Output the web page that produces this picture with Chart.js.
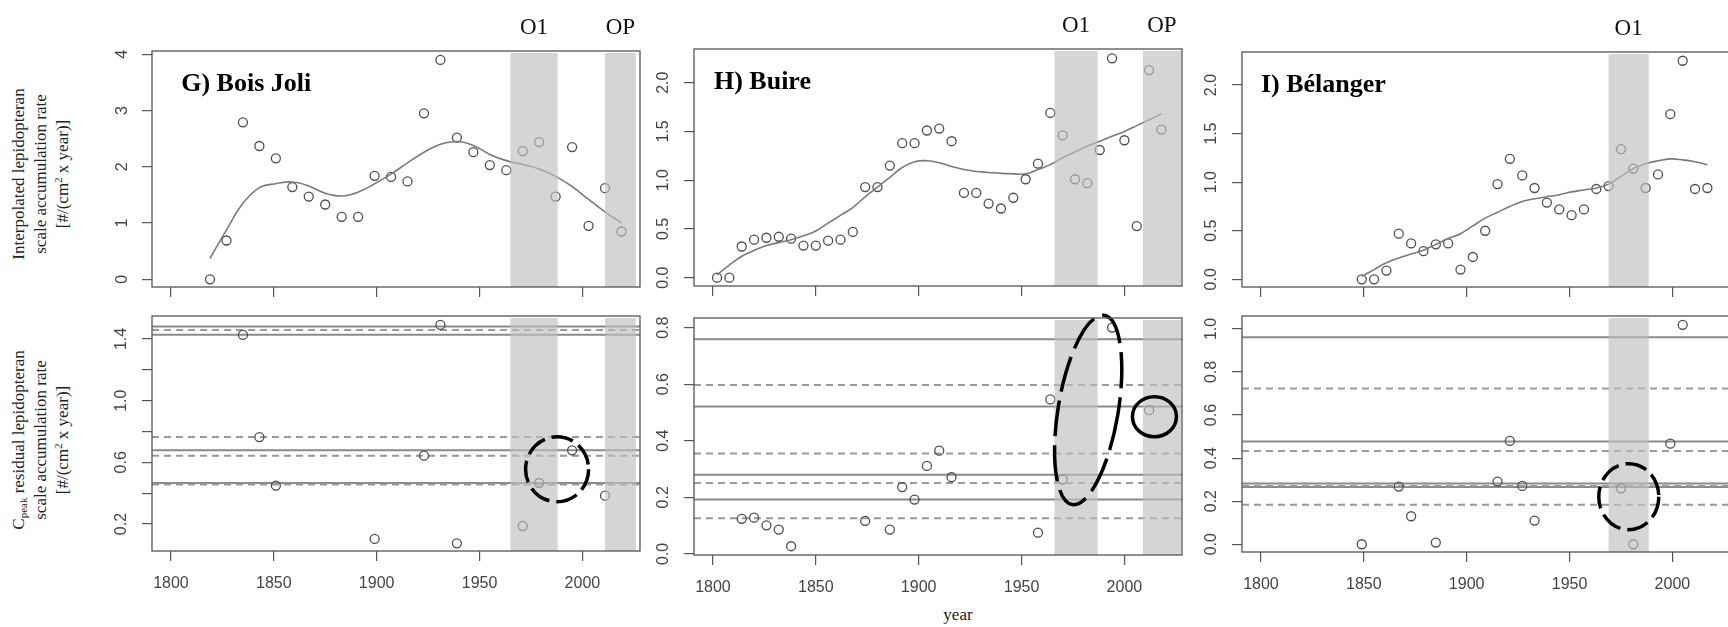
<!DOCTYPE html>
<html>
<head>
<meta charset="utf-8">
<script src="https://cdn.jsdelivr.net/npm/chart.js@4.4.0/dist/chart.umd.min.js"></script>
<style>
  html, body { margin: 0; padding: 0; background: #fff; overflow: hidden; width: 1728px; height: 627px; position: relative; }
  canvas { position: absolute; }
  .ytitle { position: absolute; width: 300px; height: 66px; font: 17px "Liberation Serif", serif; line-height: 22px;
            text-align: center; transform: rotate(-90deg); color: #222; white-space: nowrap; }
  .ytitle sup { font-size: 11px; line-height: 0; vertical-align: 6px; }
  .ytitle sub { font-size: 11px; line-height: 0; vertical-align: -3px; }
  .xtitle { position: absolute; width: 60px; text-align: center; font: 17px "Liberation Serif", serif; line-height: 20px; color: #222; }
</style>
</head>
<body>
<div class="ytitle" style="left:-109px; top:141px;">Interpolated lepidopteran<br>scale accumulation rate<br>[#/(cm<sup>2</sup> x year)]</div>
<div class="ytitle" style="left:-109px; top:407px;">C<sub>peak</sub> residual lepidopteran<br>scale accumulation rate<br>[#/(cm<sup>2</sup> x year)]</div>
<div class="xtitle" style="left:928px; top:605px;">year</div>
<script>
// G) Bois Joli
const gYears = [1819, 1827, 1835, 1843, 1851, 1859, 1867, 1875, 1883, 1891, 1899, 1907, 1915, 1923, 1931, 1939, 1947, 1955, 1963, 1971, 1979, 1987, 1995, 2003, 2011, 2019];
const gRate = [0, 0.69, 2.79, 2.37, 2.15, 1.64, 1.47, 1.33, 1.11, 1.11, 1.84, 1.82, 1.74, 2.95, 3.90, 2.52, 2.26, 2.03, 1.94, 2.28, 2.44, 1.47, 2.35, 0.95, 1.62, 0.85];
const gSmooth = [0.37, 0.88, 1.35, 1.63, 1.70, 1.73, 1.66, 1.53, 1.48, 1.55, 1.70, 1.87, 2.07, 2.26, 2.40, 2.45, 2.38, 2.22, 2.11, 2.04, 1.96, 1.83, 1.65, 1.42, 1.20, 1.00];
const gResYears = [1835, 1843, 1851, 1899, 1923, 1931, 1939, 1971, 1979, 1995, 2011];
const gResid = [1.426, 0.764, 0.449, 0.103, 0.643, 1.491, 0.075, 0.187, 0.466, 0.678, 0.384];
const gSolid = [1.481, 1.428, 0.678, 0.466];
const gDashed = [1.458, 0.764, 0.643, 0.457];
const gO1 = [1965, 1988];
const gOP = [2011, 2026];

// H) Buire
const hYears = [1802, 1808, 1814, 1820, 1826, 1832, 1838, 1844, 1850, 1856, 1862, 1868, 1874, 1880, 1886, 1892, 1898, 1904, 1910, 1916, 1922, 1928, 1934, 1940, 1946, 1952, 1958, 1964, 1970, 1976, 1982, 1988, 1994, 2000, 2006, 2012, 2018];
const hRate = [0, 0, 0.32, 0.39, 0.41, 0.42, 0.40, 0.33, 0.33, 0.38, 0.39, 0.47, 0.93, 0.93, 1.15, 1.38, 1.38, 1.51, 1.53, 1.40, 0.87, 0.87, 0.76, 0.71, 0.82, 1.01, 1.17, 1.69, 1.46, 1.01, 0.97, 1.31, 2.25, 1.41, 0.53, 2.13, 1.52];
const hSmooth = [0.03, 0.13, 0.22, 0.28, 0.33, 0.36, 0.39, 0.43, 0.48, 0.56, 0.64, 0.72, 0.83, 0.93, 1.03, 1.13, 1.19, 1.20, 1.18, 1.14, 1.11, 1.09, 1.08, 1.07, 1.065, 1.065, 1.11, 1.16, 1.23, 1.29, 1.35, 1.40, 1.45, 1.50, 1.56, 1.62, 1.68];
const hResYears = [1814, 1820, 1826, 1832, 1838, 1874, 1886, 1892, 1898, 1904, 1910, 1916, 1958, 1964, 1970, 1994, 2012];
const hResid = [0.124, 0.128, 0.101, 0.086, 0.027, 0.117, 0.086, 0.236, 0.192, 0.311, 0.365, 0.271, 0.075, 0.546, 0.263, 0.800, 0.508];
const hSolid = [0.759, 0.521, 0.280, 0.192];
const hDashed = [0.597, 0.355, 0.251, 0.126];
const hO1 = [1966, 1987];
const hOP = [2009, 2027.5];

// I) Bélanger
const iYears = [1849, 1855, 1861, 1867, 1873, 1879, 1885, 1891, 1897, 1903, 1909, 1915, 1921, 1927, 1933, 1939, 1945, 1951, 1957, 1963, 1969, 1975, 1981, 1987, 1993, 1999, 2005, 2011, 2017];
const iRate = [0, 0, 0.09, 0.47, 0.37, 0.29, 0.36, 0.37, 0.10, 0.23, 0.50, 0.98, 1.24, 1.07, 0.94, 0.79, 0.72, 0.66, 0.72, 0.93, 0.96, 1.34, 1.14, 0.94, 1.08, 1.70, 2.25, 0.93, 0.94];
const iSmooth = [0.03, 0.10, 0.17, 0.22, 0.26, 0.30, 0.36, 0.42, 0.47, 0.55, 0.63, 0.69, 0.75, 0.80, 0.83, 0.85, 0.87, 0.90, 0.92, 0.94, 0.98, 1.06, 1.14, 1.19, 1.22, 1.24, 1.23, 1.21, 1.18];
const iResYears = [1849, 1867, 1873, 1885, 1915, 1921, 1927, 1933, 1975, 1981, 1999, 2005];
const iResid = [0, 0.268, 0.130, 0.008, 0.291, 0.480, 0.271, 0.110, 0.260, 0, 0.467, 1.019];
const iSolid = [0.961, 0.477, 0.282, 0.266];
const iDashed = [0.723, 0.433, 0.271, 0.184];
const iO1 = [1969, 1988.5];

const xTicks = [1800, 1850, 1900, 1950, 2000];

const fmt1 = v => v.toFixed(1);
const fmtInt = v => String(v);
const fmtAlt = v => (Math.round(v * 10) % 4 === 2 ? v.toFixed(1) : '');

// box = plot region [left, top, right, bottom] on the page
const panels = [
    {top: true, box: [152, 51, 640, 287], y: [-0.137, 4.059], step: 1, pad: 15, fmt: fmtInt,
     years: gYears, values: gRate, smooth: gSmooth, bands: [gO1, gOP], names: ['O1', 'OP'],
     title: 'G) Bois Joli', titleX: 1805},
    {top: false, box: [152, 316, 640, 551], y: [0.025, 1.549], step: 0.2, pad: 9, fmt: fmtAlt,
     years: gResYears, values: gResid, solid: gSolid, dashed: gDashed, bands: [gO1, gOP],
     rings: [{x: 1987.7, y: 0.555, rx: 31.5, ry: 32.5, rot: 0, dash: [22, 7]}]},
    {top: true, box: [694, 49, 1182, 286], y: [-0.085, 2.346], step: 0.5, pad: 9, fmt: fmt1,
     years: hYears, values: hRate, smooth: hSmooth, bands: [hO1, hOP], names: ['O1', 'OP'],
     title: 'H) Buire', titleX: 1800.5},
    {top: false, box: [694, 318, 1182, 555], y: [-0.004, 0.834], step: 0.2, pad: 9, fmt: fmt1,
     years: hResYears, values: hResid, solid: hSolid, dashed: hDashed, bands: [hO1, hOP],
     rings: [{x: 1982.4, y: 0.509, rx: 30, ry: 96, rot: 9.6, dash: [36, 9]},
             {x: 2014.6, y: 0.485, rx: 22, ry: 20, rot: 0, dash: []}]},
    {top: true, box: [1242, 52, 1730, 287], y: [-0.079, 2.34], step: 0.5, pad: 9, fmt: fmt1,
     years: iYears, values: iRate, smooth: iSmooth, bands: [iO1], names: ['O1'],
     title: 'I) Bélanger', titleX: 1800},
    {top: false, box: [1242, 316, 1730, 552], y: [-0.036, 1.06], step: 0.2, pad: 9, fmt: fmt1,
     years: iResYears, values: iResid, solid: iSolid, dashed: iDashed, bands: [iO1],
     rings: [{x: 1978.8, y: 0.221, rx: 30, ry: 33, rot: 0, dash: [22, 7]}]}
];

function hline(ctx, area, py, dash) {
    ctx.setLineDash(dash);
    ctx.beginPath();
    ctx.moveTo(area.left, py);
    ctx.lineTo(area.right, py);
    ctx.stroke();
}

function decorPlugin(p) {
    return {
        id: 'decor',
        beforeDatasetsDraw(chart) {
            const ctx = chart.ctx, a = chart.chartArea, ys = chart.scales.y;
            ctx.save();
            ctx.lineWidth = 2;
            ctx.strokeStyle = '#8a8a8a';
            (p.solid || []).forEach(v => hline(ctx, a, ys.getPixelForValue(v), []));
            ctx.strokeStyle = '#999';
            (p.dashed || []).forEach(v => hline(ctx, a, ys.getPixelForValue(v), [7, 5]));
            ctx.restore();
        },
        afterDatasetsDraw(chart) {
            const ctx = chart.ctx, a = chart.chartArea, xs = chart.scales.x, ys = chart.scales.y;
            ctx.save();
            // shaded periods, drawn over the marks like the original
            p.bands.forEach((b, i) => {
                const x0 = xs.getPixelForValue(b[0]), x1 = xs.getPixelForValue(b[1]);
                ctx.fillStyle = 'rgba(190, 190, 190, 0.65)';
                ctx.fillRect(x0, a.top + 2, x1 - x0, a.bottom - a.top - 2);
                if (p.top) {
                    ctx.fillStyle = '#111';
                    ctx.font = '23px "Liberation Serif", serif';
                    ctx.textAlign = 'center';
                    ctx.textBaseline = 'alphabetic';
                    ctx.fillText(p.names[i], (x0 + x1) / 2, a.top - 17);
                }
            });
            // highlighted areas
            (p.rings || []).forEach(r => {
                ctx.lineWidth = 3.5;
                ctx.strokeStyle = '#000';
                ctx.setLineDash(r.dash);
                ctx.beginPath();
                ctx.ellipse(xs.getPixelForValue(r.x), ys.getPixelForValue(r.y), r.rx, r.ry, r.rot * Math.PI / 180, 0, 2 * Math.PI);
                ctx.stroke();
            });
            ctx.setLineDash([]);
            if (p.title) {
                ctx.fillStyle = '#000';
                ctx.font = 'bold 26px "Liberation Serif", serif';
                ctx.textAlign = 'left';
                ctx.textBaseline = 'alphabetic';
                ctx.fillText(p.title, xs.getPixelForValue(p.titleX), a.top + 40);
            }
            ctx.lineWidth = 1.3;
            ctx.strokeStyle = '#555';
            ctx.strokeRect(a.left, a.top, a.right - a.left, a.bottom - a.top);
            ctx.restore();
        }
    };
}

function addPanel(p) {
    const yAxisW = 70, padRight = 10;
    const padTop = p.top ? p.box[1] : 30;
    const axisH = p.top ? 30 : 60;
    const w = (p.box[2] - p.box[0]) + yAxisW + padRight;
    const h = (p.box[3] - p.box[1]) + padTop + axisH;
    const cv = document.createElement('canvas');
    cv.width = w;
    cv.height = h;
    cv.style.left = (p.box[0] - yAxisW) + 'px';
    cv.style.top = (p.box[1] - padTop) + 'px';
    cv.style.width = w + 'px';
    cv.style.height = h + 'px';
    document.body.appendChild(cv);

    const datasets = [];
    if (p.smooth) {
        datasets.push({
            data: p.years.map((yr, i) => ({x: yr, y: p.smooth[i]})),
            borderColor: '#7a7a7a',
            borderWidth: 1.6,
            pointRadius: 0,
            tension: 0.4,
            fill: false
        });
    }
    datasets.push({
        data: p.years.map((yr, i) => ({x: yr, y: p.values[i]})),
        showLine: false,
        pointRadius: 4.5,
        pointBorderColor: '#4d4d4d',
        pointBorderWidth: 1.3,
        pointBackgroundColor: 'rgba(0,0,0,0)'
    });

    const tickFont = {family: '"Liberation Sans", Arial, sans-serif', size: 16};
    new Chart(cv, {
        type: 'line',
        data: {datasets: datasets},
        options: {
            responsive: false,
            animation: false,
            devicePixelRatio: 1,
            events: [],
            layout: {padding: {top: padTop, right: padRight, left: 0, bottom: 0}},
            plugins: {legend: {display: false}, tooltip: {enabled: false}},
            scales: {
                x: {
                    type: 'linear',
                    min: 1790.8,
                    max: 2028,
                    afterBuildTicks: s => { s.ticks = xTicks.map(v => ({value: v})); },
                    afterFit: s => {
                        s.height = axisH;
                        s.paddingLeft = s.paddingRight = s.paddingTop = s.paddingBottom = 0;
                    },
                    border: {display: false},
                    grid: {drawOnChartArea: false, drawTicks: true, tickLength: 10, color: '#555', lineWidth: 1.2},
                    ticks: {display: !p.top, font: tickFont, color: '#444', padding: 13, maxRotation: 0,
                            autoSkip: false, callback: v => String(v)}
                },
                y: {
                    type: 'linear',
                    min: p.y[0],
                    max: p.y[1],
                    afterFit: s => {
                        s.width = yAxisW;
                        s.paddingLeft = s.paddingRight = s.paddingTop = s.paddingBottom = 0;
                    },
                    border: {display: false},
                    grid: {drawOnChartArea: false, drawTicks: true, tickLength: 10, color: '#555', lineWidth: 1.2},
                    ticks: {
                        stepSize: p.step,
                        includeBounds: false,
                        autoSkip: false,
                        minRotation: 90,
                        maxRotation: 90,
                        crossAlign: 'center',
                        padding: p.pad,
                        font: tickFont,
                        color: '#444',
                        callback: p.fmt
                    }
                }
            }
        },
        plugins: [decorPlugin(p)]
    });
}

panels.forEach(addPanel);
</script>
</body>
</html>
